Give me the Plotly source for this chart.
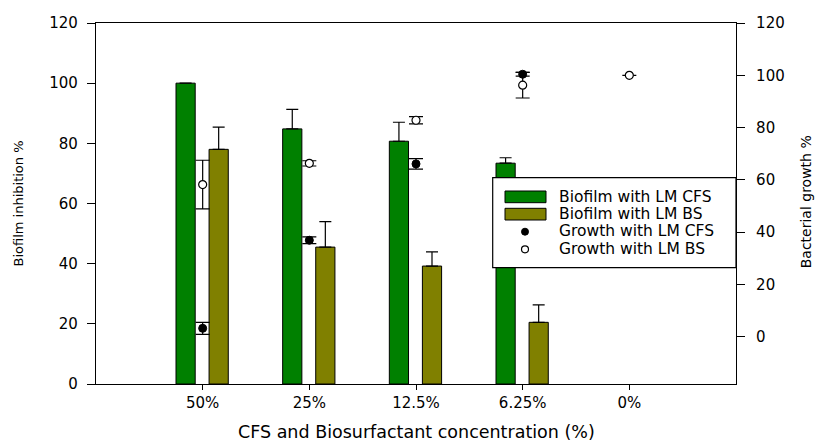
import plotly.graph_objects as go

# ---------------- data ----------------
categories = ["50%", "25%", "12.5%", "6.25%", "0%"]
biofilm_cfs = [100.0, 84.8, 80.7, 73.4, None]
biofilm_cfs_err = [None, 6.5, 6.3, 1.8, None]
biofilm_bs = [78.0, 45.5, 39.2, 20.5, None]
biofilm_bs_err = [7.4, 8.5, 4.7, 5.8, None]
growth_cfs = [3.2, 36.9, 66.1, 100.4, None]
growth_cfs_err = [2.3, 1.3, 2.0, 0.7, None]
growth_bs = [58.2, 66.3, 82.8, 96.2, 100.0]
growth_bs_err = [9.3, 1.0, 1.4, 4.9, 0.0]
left_ticks = [0, 20, 40, 60, 80, 100, 120]
right_ticks = [0, 20, 40, 60, 80, 100, 120]
legend_labels = ["Biofilm with LM CFS", "Biofilm with LM BS",
                 "Growth with LM CFS", "Growth with LM BS"]

GREEN = "#008000"
OLIVE = "#808000"
FONT = "DejaVu Sans"
W, H = 815, 441
L, R, T, B = 96, 79, 23, 57
PW, PH = W - L - R, H - T - B


def px(x):
    return (x - L) / PW


def py(y):
    return (H - B - y) / PH


fig = go.Figure()

fig.add_trace(go.Bar(
    x=categories, y=biofilm_cfs, name=legend_labels[0],
    marker=dict(color=GREEN, line=dict(color="black", width=1)),
    width=0.18, offset=-0.25,
    error_y=dict(type="data", array=biofilm_cfs_err,
                 arrayminus=[0] * len(categories), symmetric=False,
                 color="black", thickness=1.2, width=6),
    showlegend=False))
fig.add_trace(go.Bar(
    x=categories, y=biofilm_bs, name=legend_labels[1],
    marker=dict(color=OLIVE, line=dict(color="black", width=1)),
    width=0.18, offset=0.06,
    error_y=dict(type="data", array=biofilm_bs_err,
                 arrayminus=[0] * len(categories), symmetric=False,
                 color="black", thickness=1.2, width=6),
    showlegend=False))
fig.add_trace(go.Scatter(
    x=categories, y=growth_cfs, yaxis="y2", mode="markers",
    name=legend_labels[2],
    marker=dict(symbol="circle", size=8, color="black",
                line=dict(color="black", width=1)),
    error_y=dict(type="data", array=growth_cfs_err, color="black",
                 thickness=1.2, width=7),
    showlegend=False))
fig.add_trace(go.Scatter(
    x=categories, y=growth_bs, yaxis="y2", mode="markers",
    name=legend_labels[3],
    marker=dict(symbol="circle", size=8, color="white",
                line=dict(color="black", width=1.2)),
    error_y=dict(type="data", array=growth_bs_err, color="black",
                 thickness=1.2, width=7),
    showlegend=False))

# ------------- custom legend -------------
shapes = [
    dict(type="rect", xref="paper", yref="paper", x0=px(492.7), x1=1.0,
         y0=py(267.7), y1=py(177.7), fillcolor="white",
         line=dict(color="black", width=1.2), layer="above"),
    dict(type="rect", xref="paper", yref="paper", x0=px(505), x1=px(546),
         y0=py(202.7), y1=py(191), fillcolor=GREEN,
         line=dict(color="black", width=1), layer="above"),
    dict(type="rect", xref="paper", yref="paper", x0=px(505), x1=px(546),
         y0=py(220), y1=py(208.3), fillcolor=OLIVE,
         line=dict(color="black", width=1), layer="above"),
    dict(type="circle", xref="paper", yref="paper", xsizemode="pixel",
         ysizemode="pixel", xanchor=px(525), yanchor=py(231.7),
         x0=-3.5, x1=3.5, y0=-3.5, y1=3.5, fillcolor="black",
         line=dict(color="black", width=1), layer="above"),
    dict(type="circle", xref="paper", yref="paper", xsizemode="pixel",
         ysizemode="pixel", xanchor=px(525), yanchor=py(249.3),
         x0=-3.5, x1=3.5, y0=-3.5, y1=3.5, fillcolor="white",
         line=dict(color="black", width=1.2), layer="above"),
]
row_y = [196.5, 214, 231.5, 249]
annotations = [
    dict(text=lab, xref="paper", yref="paper", x=px(557), y=py(yy),
         xanchor="left", yanchor="middle", showarrow=False,
         font=dict(family=FONT, size=15.5, color="black"))
    for lab, yy in zip(legend_labels, row_y)
]
annotations += [
    dict(text="CFS and Biosurfactant concentration (%)", xref="paper",
         yref="paper", x=0.5, y=py(420), xanchor="center", yanchor="top",
         showarrow=False, font=dict(family=FONT, size=17.5, color="black")),
    dict(text="Biofilm inhibition %", xref="paper", yref="paper",
         x=px(18), y=py(203.5), xanchor="center", yanchor="middle",
         textangle=-90, showarrow=False,
         font=dict(family=FONT, size=13, color="black")),
    dict(text="Bacterial growth %", xref="paper", yref="paper",
         x=px(806), y=py(202.3), xanchor="center", yanchor="middle",
         textangle=-90, showarrow=False,
         font=dict(family=FONT, size=14, color="black")),
]

fig.update_layout(
    width=W, height=H,
    margin=dict(l=L, r=R, t=T, b=B, pad=0),
    paper_bgcolor="white", plot_bgcolor="white",
    barmode="overlay",
    font=dict(family=FONT, size=15, color="black"),
    xaxis=dict(type="category", categoryorder="array",
               categoryarray=categories, range=[-1, 5],
               showline=True, linecolor="black", linewidth=1.2,
               mirror=True, ticks="outside", ticklen=5, tickwidth=1,
               tickcolor="black", showgrid=False, zeroline=False,
               tickfont=dict(family=FONT, size=15, color="black")),
    yaxis=dict(range=[0, 120], tickvals=left_ticks,
               showline=True, linecolor="black", linewidth=1.2,
               ticks="outside", ticklen=8, tickwidth=1, tickcolor="black",
               showgrid=False, zeroline=False, ticklabelstandoff=6,
               tickfont=dict(family=FONT, size=15, color="black")),
    yaxis2=dict(range=[-18.1, 120], tickvals=right_ticks, overlaying="y",
                side="right", showline=True, linecolor="black",
                linewidth=1.2, ticks="outside", ticklen=8, tickwidth=1,
                tickcolor="black", showgrid=False, zeroline=False,
                ticklabelstandoff=8,
                tickfont=dict(family=FONT, size=15, color="black")),
    shapes=shapes,
    annotations=annotations,
)

fig.write_html("out.html")
